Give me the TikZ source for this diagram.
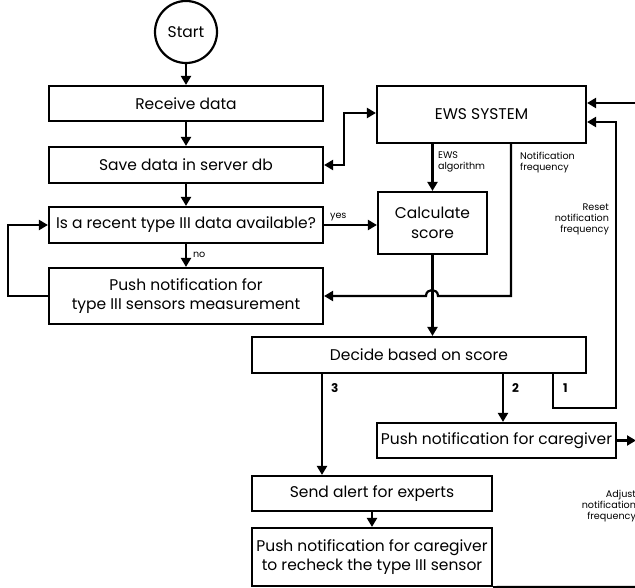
\documentclass[tikz,border=0pt]{standalone}
\usepackage{fontspec}
\setmainfont{Poppins}
\usetikzlibrary{arrows.meta}
\begin{document}
\begin{tikzpicture}[x=1pt,y=-1pt,
  every path/.style={line width=2.2pt},
  box/.style={draw, line width=2.2pt, rectangle, inner sep=0pt, align=center, font=\fontsize{15.5}{19}\selectfont},
  arr/.style={-{Triangle[length=9pt,width=10pt]}},
  small/.style={font=\fontsize{9.6}{11}\selectfont, inner sep=0pt, align=left},
  num/.style={font=\bfseries\fontsize{12}{13}\selectfont, inner sep=0pt}
]
\useasboundingbox (0,0) rectangle (635,588);
\node[draw, circle, line width=2.2pt, minimum size=62pt, inner sep=0pt, font=\fontsize{15.5}{19}\selectfont] (start) at (186,32) {Start};
\node[box, minimum width=274pt, minimum height=35pt] (recv) at (186,103.5) {Receive data};
\node[box, minimum width=274pt, minimum height=36pt] (save) at (186,165) {Save data in server db};
\node[box, minimum width=274pt, minimum height=36pt] (recent) at (186,225) {Is a recent type III data available?};
\node[box, minimum width=274pt, minimum height=56pt] (push3) at (186,296) {Push notification for\\type III sensors measurement};
\node[box, minimum width=209pt, minimum height=57pt] (ews) at (481.5,114.5) {EWS SYSTEM};
\node[box, minimum width=109pt, minimum height=62pt, font=\fontsize{15.5}{20}\selectfont] (calc) at (432.5,223) {Calculate\\score};
\node[box, minimum width=334pt, minimum height=36pt] (decide) at (419,355) {Decide based on score};
\node[box, minimum width=239pt, minimum height=35pt] (care) at (496.5,440.5) {Push notification for caregiver};
\node[box, minimum width=240pt, minimum height=35pt] (alert) at (372,493.5) {Send alert for experts};
\node[box, minimum width=240pt, minimum height=58pt] (recheck) at (372,557) {Push notification for caregiver\\to recheck the type III sensor};

\coordinate (loopA) at (8,296);
\coordinate (loopB) at (8,225);
\coordinate (dbl) at (344,113);
\coordinate (nfTop) at (511,143);
\coordinate (nfCorner) at (511,296);
\coordinate (hopR) at (438,296);
\coordinate (hopL) at (426,296);
\coordinate (b3) at (322,373);
\coordinate (b2) at (503,373);
\coordinate (b1) at (553,373);
\coordinate (b1a) at (553,408);
\coordinate (b1b) at (616,408);
\coordinate (b1c) at (616,122);
\coordinate (careOut) at (636,440.5);
\coordinate (topIn) at (640,103);
\coordinate (botOut) at (640,587);

\draw[arr] (start) -- (recv);
\draw[arr] (recv) -- (save);
\draw[arr] (save) -- (recent);
\draw[arr] (recent) -- (push3);
\draw[arr] (push3.west) -- (loopA) -- (loopB) -- (recent.west);
\draw[arr] (recent.east) -- (calc.west |- recent.east);
\draw[{Triangle[length=9pt,width=10pt]}-{Triangle[length=9pt,width=10pt]}] (save.east) -| (dbl) -- (ews.west |- dbl);
\draw[arr] (ews.south -| calc.north) -- (calc.north);
\draw[arr] (nfTop) -- (nfCorner) -- (hopR) .. controls (438,288) and (426,288) .. (hopL) -- (push3.east);
\draw[arr] (calc.south) -- (calc.south |- decide.north);
\draw[arr] (b3) -- (b3 |- alert.north);
\draw[arr] (b2) -- (b2 |- care.north);
\draw[arr] (b1) -- (b1a) -- (b1b) -- (b1c) -- (ews.east |- b1c);
\draw[arr] (care.east) -- (careOut);
\draw[arr] (topIn) -- (ews.east |- topIn);
\draw[arr] (alert.south) -- (recheck.north);
\draw (recheck.south east) -- (botOut);

\node[small, anchor=west] (lno) at (192,255) {no};
\node[small, anchor=west] (lyes) at (329,217) {yes};
\node[small, anchor=north west] (lalg) at (437,151) {EWS\\algorithm};
\node[small, anchor=north west] (lnf) at (519,151) {Notification\\frequency};
\node[small, anchor=north east, align=right] (lreset) at (610,203) {Reset\\notification\\frequency};
\node[small, anchor=north east, align=right] (ladj) at (637,489) {Adjust\\notification\\frequency};
\node[num, anchor=west] (l3) at (330,388) {3};
\node[num, anchor=west] (l2) at (511,388) {2};
\node[num, anchor=west] (l1) at (562,388) {1};
\end{tikzpicture}
\end{document}
